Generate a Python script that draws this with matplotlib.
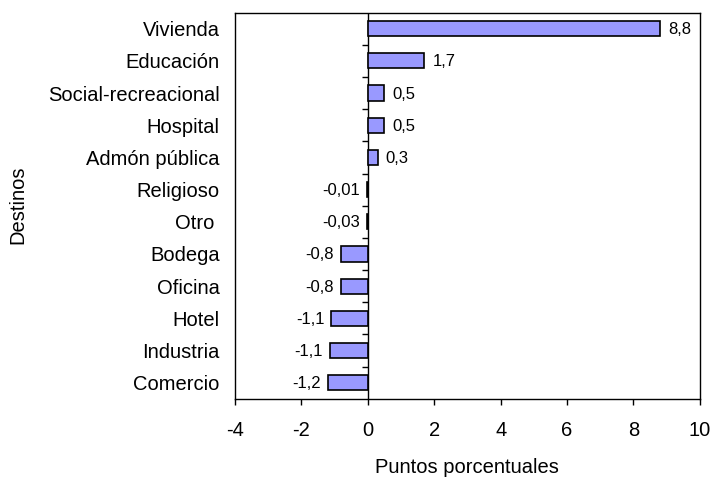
import numpy as np
import matplotlib
matplotlib.use('Agg')
import matplotlib.pyplot as plt
from matplotlib import transforms

plt.rcParams['font.family'] = ['Liberation Sans', 'DejaVu Sans']

destinos = ['Vivienda', 'Educación', 'Social-recreacional', 'Hospital',
            'Admón pública', 'Religioso', 'Otro ', 'Bodega', 'Oficina',
            'Hotel', 'Industria', 'Comercio']
valores = [8.8, 1.7, 0.5, 0.5, 0.3, -0.01, -0.03, -0.8, -0.8, -1.1, -1.15, -1.2]
etiquetas = ['8,8', '1,7', '0,5', '0,5', '0,3', '-0,01', '-0,03',
             '-0,8', '-0,8', '-1,1', '-1,1', '-1,2']
x_ticks = [-4, -2, 0, 2, 4, 6, 8, 10]

fig = plt.figure(figsize=(7.12, 4.84), dpi=100)
ax = fig.add_axes([0.330, 0.176, 0.653, 0.798])

n = len(destinos)
y = np.arange(n)[::-1]
ax.barh(y, valores, height=0.47, color='#9999FF', edgecolor='black', linewidth=1.2, zorder=3)

ax.set_xlim(-4, 10)
ax.set_ylim(-0.5, n - 0.5)
ax.set_xticks(x_ticks)
ax.set_xticklabels([str(t) for t in x_ticks], fontsize=14.5)
ax.tick_params(axis='x', direction='out', length=4, width=1, pad=12)

ax.set_yticks(y)
ax.set_yticklabels(destinos, fontsize=14.5)
ax.tick_params(axis='y', length=0, pad=11)

# category axis crossing at zero, with ticks between categories
ax.axvline(0, color='black', linewidth=1, zorder=2)
bordes = np.arange(n - 1) + 0.5
ax.plot(np.zeros(len(bordes)), bordes, linestyle='none', marker=0,
        markersize=4, markeredgewidth=1, color='black', zorder=2)

offset_r = transforms.offset_copy(ax.transData, fig=fig, x=8, y=-1, units='dots')
offset_l = transforms.offset_copy(ax.transData, fig=fig, x=-7, y=-1, units='dots')
for yi, v, lab in zip(y, valores, etiquetas):
    if v >= 0:
        ax.text(v, yi, lab, transform=offset_r, ha='left', va='center', fontsize=12)
    else:
        ax.text(v, yi, lab, transform=offset_l, ha='right', va='center', fontsize=12)

for s in ax.spines.values():
    s.set_linewidth(1)

ax.set_xlabel('Puntos porcentuales', fontsize=14.5)
ax.set_ylabel('Destinos', fontsize=14.5)
ax.xaxis.set_label_coords(0.5, -0.153)
ax.yaxis.set_label_coords(-0.447, 0.503)

fig.savefig('out.png', dpi=100)
